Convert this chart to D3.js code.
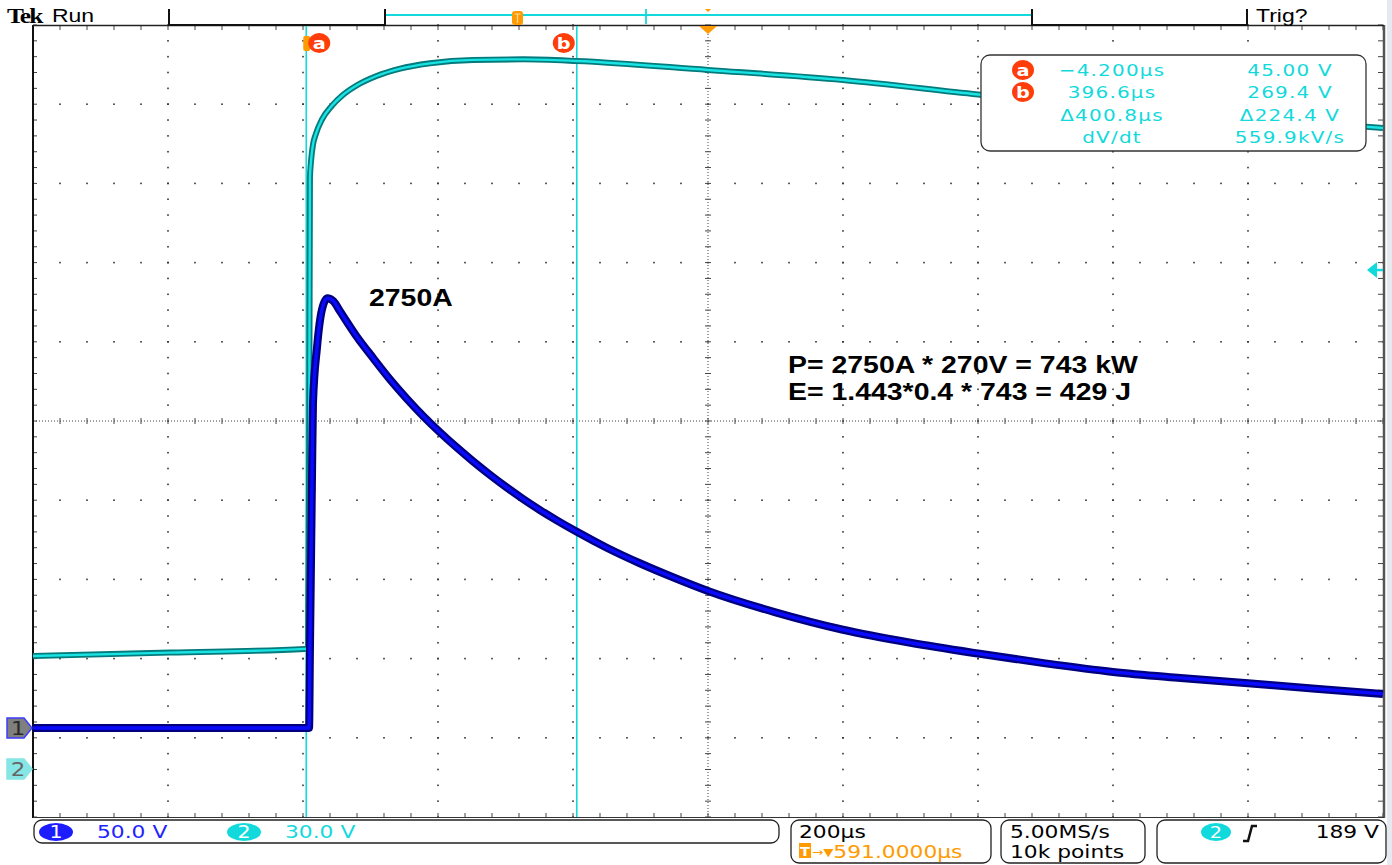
<!DOCTYPE html>
<html>
<head>
<meta charset="utf-8">
<script src="https://cdn.jsdelivr.net/npm/d3@7"></script>
<style>
  body { margin: 0; background: #fff; }
  svg { display: block; }
</style>
</head>
<body>
<div id="app"></div>
<script>
(function (d3) {

  'use strict'

  const w = 1392
  const h = 865
  const stretch = 1.21   // the scope screen is wider than tall, text too

  // horizontal: 200 µs/div, centre of screen at 591 µs
  const timePerDiv = 200
  const horizPos = 591

  // channel 1 (dark blue), 50 V/div
  const ch1Time = [-409, -300, -200, -100, -2, 0, 1.3, 4.3, 5.8, 11.7, 19, 27, 36, 46, 70, 95, 120, 145, 170, 194, 219, 243, 268, 293, 317, 342, 367, 396, 441, 490, 540, 591, 691, 791, 891, 991, 1091, 1191, 1291, 1391, 1491, 1591]
  const ch1Volt = [0, 0, 0, 0, 0, 0, 49, 157, 205, 240, 264, 271.3, 269.5, 263, 247.5, 233.5, 220, 207.8, 196.5, 186.6, 177, 168.3, 159.8, 151.8, 144.6, 137.6, 131.1, 124, 113.8, 104, 95, 86.5, 73, 62, 53.8, 47, 40.8, 35.4, 31.6, 28.2, 24.8, 21.5]

  // channel 2 (cyan), 30 V/div
  const ch2Time = [-409, -206, -6, -1.5, 0.2, 1.3, 2.8, 5.8, 10, 19, 34, 50, 71, 100, 135, 179, 243, 317, 396, 591, 791, 991, 1191, 1391, 1591]
  const ch2Volt = [42.8, 44.1, 45.5, 45.6, 120, 224, 230, 236.5, 240.5, 246, 251.3, 255.3, 259, 262.5, 265.3, 267.3, 268.6, 268.8, 268.2, 264.8, 261, 255.5, 250.6, 246.6, 242.8]

  const voltsPerDiv = [50, 30]
  const groundDiv = [-3.876, -4.394]   // ground marker position in divisions from centre
  const triggerLevel = 189              // V on channel 2

  const cursorNames = ['a', 'b']
  const cursorTimes = [-4.2, 396.6]
  const readoutCol1 = ['−4.200µs', '396.6µs', 'Δ400.8µs', 'dV/dt']
  const readoutCol2 = ['45.00 V', '269.4 V', 'Δ224.4 V', '559.9kV/s']

  const noteLines = ['P= 2750A * 270V = 743 kW', 'E= 1.443*0.4 * 743 = 429 J']
  const peakNote = '2750A'

  const cyan = '#12d9dc'
  const orange = '#ff9a00'
  const cursorRed = '#ff3d0a'

  const svg = d3.select('#app')
    .append('svg')
    .attr('width', w)
    .attr('height', h)

  const x = d3.scaleLinear()
    .domain([horizPos - 5 * timePerDiv, horizPos + 5 * timePerDiv])
    .range([33, 1383])
  const xDiv = d3.scaleLinear().domain([-5, 5]).range([33, 1383])
  const yDiv = d3.scaleLinear().domain([-5, 5]).range([817, 25])
  const yCh = (c, v) => yDiv(v / voltsPerDiv[c] + groundDiv[c])

  const txt = function (g, px, py, s, opt) {
    opt = opt || {}
    return g.append('text')
      .attr('transform', 'translate(' + px + ',' + py + ') scale(' + stretch + ',1)')
      .attr('text-anchor', opt.anchor || 'start')
      .attr('font-family', opt.family || 'DejaVu Sans')
      .attr('font-size', opt.size || 17)
      .attr('font-weight', opt.weight || 'normal')
      .attr('letter-spacing', opt.spacing || 0)
      .attr('fill', opt.fill || '#000')
      .text(s)
  }

  // ---- graticule
  const grid = svg.append('g')
  const minorX = d3.range(-25, 26).map(i => i / 5)
  const minorY = d3.range(-25, 26).map(i => i / 5)
  const majors = [-4, -3, -2, -1, 1, 2, 3, 4]

  majors.forEach(function (m) {
    grid.selectAll(null).data(minorX).enter().append('rect')
      .attr('x', d => xDiv(d) - 0.8).attr('y', yDiv(m) - 0.8)
      .attr('width', 1.6).attr('height', 1.6).attr('fill', '#333')
    grid.selectAll(null).data(minorY).enter().append('rect')
      .attr('x', xDiv(m) - 0.8).attr('y', d => yDiv(d) - 0.8)
      .attr('width', 1.6).attr('height', 1.6).attr('fill', '#333')
  })

  // centre cross, dotted with ticks
  grid.append('line')
    .attr('x1', 33).attr('x2', 1383).attr('y1', yDiv(0)).attr('y2', yDiv(0))
    .attr('stroke', '#444').attr('stroke-dasharray', '1 2')
  grid.append('line')
    .attr('x1', xDiv(0)).attr('x2', xDiv(0)).attr('y1', 25).attr('y2', 817)
    .attr('stroke', '#444').attr('stroke-dasharray', '1 2')
  grid.selectAll(null).data(minorX).enter().append('line')
    .attr('x1', d => xDiv(d)).attr('x2', d => xDiv(d))
    .attr('y1', yDiv(0) - 3).attr('y2', yDiv(0) + 3)
    .attr('stroke', '#444')
  grid.selectAll(null).data(minorY).enter().append('line')
    .attr('y1', d => yDiv(d)).attr('y2', d => yDiv(d))
    .attr('x1', xDiv(0) - 3).attr('x2', xDiv(0) + 3)
    .attr('stroke', '#444')

  // edge ticks
  grid.selectAll(null).data(minorY).enter().append('line')
    .attr('y1', d => yDiv(d)).attr('y2', d => yDiv(d))
    .attr('x1', 33).attr('x2', 37).attr('stroke', '#444')
  grid.selectAll(null).data(minorY).enter().append('line')
    .attr('y1', d => yDiv(d)).attr('y2', d => yDiv(d))
    .attr('x1', 1378).attr('x2', 1383).attr('stroke', '#444')
  grid.selectAll(null).data(minorX).enter().append('line')
    .attr('x1', d => xDiv(d)).attr('x2', d => xDiv(d))
    .attr('y1', 26).attr('y2', 30).attr('stroke', '#444')
  grid.selectAll(null).data(minorX).enter().append('line')
    .attr('x1', d => xDiv(d)).attr('x2', d => xDiv(d))
    .attr('y1', 813).attr('y2', 817).attr('stroke', '#444')

  // borders
  grid.append('line').attr('x1', 33).attr('x2', 33).attr('y1', 25).attr('y2', 818)
    .attr('stroke', '#111').attr('stroke-width', 2)
  grid.append('line').attr('x1', 1384).attr('x2', 1384).attr('y1', 25).attr('y2', 818)
    .attr('stroke', '#555').attr('stroke-width', 2.5)
  grid.append('line').attr('x1', 33).attr('x2', 1384).attr('y1', 817.5).attr('y2', 817.5)
    .attr('stroke', '#333').attr('stroke-width', 1)
  grid.append('line').attr('x1', 33).attr('x2', 1384).attr('y1', 25.5).attr('y2', 25.5)
    .attr('stroke', '#222').attr('stroke-width', 1.5)
  svg.append('rect').attr('x', 1387).attr('y', 0).attr('width', 5).attr('height', h).attr('fill', '#e6e9ee')

  // ---- top status bar
  const top = svg.append('g')
  txt(top, 7, 23, 'Tek', { size: 21, weight: 'bold', family: 'Liberation Serif', spacing: -1.5 })
  txt(top, 52, 22, 'Run', { size: 19, family: 'Liberation Sans' })
  txt(top, 1256, 22, 'Trig?', { size: 19, family: 'Liberation Sans' })
  top.append('path')
    .attr('d', 'M169,9V25H385V9 M1032,9V25H1247V9')
    .attr('fill', 'none').attr('stroke', '#111').attr('stroke-width', 2)
  top.append('line').attr('x1', 386).attr('x2', 1031).attr('y1', 15).attr('y2', 15)
    .attr('stroke', cyan).attr('stroke-width', 1.8)
  top.append('line').attr('x1', 646).attr('x2', 646).attr('y1', 9).attr('y2', 24)
    .attr('stroke', cyan).attr('stroke-width', 1.8)
  top.append('rect').attr('x', 512).attr('y', 11).attr('width', 11).attr('height', 14).attr('rx', 3)
    .attr('fill', orange)
  top.append('path').attr('d', 'M514.5,14H520.5M517.5,14V23').attr('stroke', '#ffd79a').attr('stroke-width', 1.2)
  top.append('path').attr('d', 'M705,9H711L708,12Z').attr('fill', orange)
  top.append('path').attr('d', 'M699,26H717L708,34Z').attr('fill', orange)

  // ---- cursors
  const cur = svg.append('g')
  cur.selectAll('line').data(cursorTimes).enter().append('line')
    .attr('x1', d => x(d)).attr('x2', d => x(d))
    .attr('y1', 26).attr('y2', 817)
    .attr('stroke', cyan).attr('stroke-width', 1.6)
  cur.append('rect').attr('x', x(cursorTimes[0]) - 3).attr('y', 36).attr('width', 7).attr('height', 15).attr('rx', 2)
    .attr('fill', orange)
  const badge = function (g, cx, cy, s) {
    g.append('ellipse').attr('cx', cx).attr('cy', cy).attr('rx', 11).attr('ry', 10).attr('fill', cursorRed)
    txt(g, cx, cy + 6, s, { size: 16, weight: 'bold', fill: '#fff', anchor: 'middle' })
  }
  badge(cur, x(cursorTimes[0]) + 13, 43, cursorNames[0])
  badge(cur, x(cursorTimes[1]) - 13, 43, cursorNames[1])

  // ---- traces
  const traces = svg.append('g')
  const line = c => d3.line()
    .x(d => x(d[0]))
    .y(d => yCh(c, d[1]))
    .curve(d3.curveMonotoneX)

  const ch2 = d3.zip(ch2Time, ch2Volt)
  const ch1 = d3.zip(ch1Time, ch1Volt)

  traces.append('path').datum(ch2).attr('d', line(1))
    .attr('fill', 'none').attr('stroke', '#057a7c').attr('stroke-width', 6)
  traces.append('path').datum(ch2).attr('d', line(1))
    .attr('fill', 'none').attr('stroke', '#1ae3e3').attr('stroke-width', 2.4)
  traces.append('path').datum(ch1).attr('d', line(0))
    .attr('fill', 'none').attr('stroke', '#00007e').attr('stroke-width', 8)
  traces.append('path').datum(ch1).attr('d', line(0))
    .attr('fill', 'none').attr('stroke', '#0a0aff').attr('stroke-width', 3.4)

  // channel ground markers + trigger level
  const mk = svg.append('g')
  const marker = function (cy, fill, edge, s, textFill) {
    mk.append('path')
      .attr('d', 'M7,' + (cy - 10) + 'H24L32,' + cy + 'L24,' + (cy + 10) + 'H7Z')
      .attr('fill', fill).attr('stroke', edge).attr('stroke-width', 1.5)
    txt(mk, 18, cy + 7, s, { size: 19, fill: textFill, anchor: 'middle' })
  }
  marker(yDiv(groundDiv[0]), '#7f7f7f', '#3c3cff', '1', '#2a2a2a')
  marker(yDiv(groundDiv[1]), '#86e6e6', '#86e6e6', '2', '#666')
  const ty = yCh(1, triggerLevel)
  mk.append('path').attr('d', 'M1367,' + ty + 'L1377,' + (ty - 8) + 'V' + (ty + 8) + 'Z').attr('fill', cyan)
  mk.append('line').attr('x1', 1375).attr('x2', 1383).attr('y1', ty).attr('y2', ty)
    .attr('stroke', cyan).attr('stroke-width', 2.5)

  // ---- cursor readout
  const ro = svg.append('g')
  ro.append('rect').attr('x', 981).attr('y', 55).attr('width', 385).attr('height', 96).attr('rx', 9)
    .attr('fill', '#fff').attr('stroke', '#333').attr('stroke-width', 1.3)
  const rowY = [70, 92, 115, 137]
  badge(ro, 1023, rowY[0], cursorNames[0])
  badge(ro, 1023, rowY[1], cursorNames[1])
  readoutCol1.forEach(function (s, i) {
    txt(ro, 1112, rowY[i] + 6, s, { size: 16.5, fill: cyan, anchor: 'middle', spacing: 1 })
  })
  readoutCol2.forEach(function (s, i) {
    txt(ro, 1290, rowY[i] + 6, s, { size: 16.5, fill: cyan, anchor: 'middle', spacing: 1 })
  })

  // ---- annotations
  const ann = svg.append('g')
  txt(ann, 369, 306, peakNote, { size: 23.5, weight: 'bold', family: 'Liberation Sans' })
  noteLines.forEach(function (s, i) {
    txt(ann, 788, 373 + i * 27, s, { size: 23.5, weight: 'bold', family: 'Liberation Sans' })
  })

  // ---- bottom readouts
  const bot = svg.append('g')
  const box = (x0, y0, bw, bh) => bot.append('rect')
    .attr('x', x0).attr('y', y0).attr('width', bw).attr('height', bh).attr('rx', 8)
    .attr('fill', 'none').attr('stroke', '#222').attr('stroke-width', 1.3)
  box(34, 820, 745, 23)
  box(791, 820, 200, 43)
  box(1001, 820, 144, 43)
  box(1157, 820, 229, 43)

  bot.append('ellipse').attr('cx', 56).attr('cy', 832).attr('rx', 17).attr('ry', 9).attr('fill', '#1c1cff')
  txt(bot, 56, 838, '1', { size: 17, fill: '#fff', anchor: 'middle' })
  txt(bot, 97, 838, voltsPerDiv[0].toFixed(1) + ' V', { size: 18, fill: '#2323ff' })
  bot.append('ellipse').attr('cx', 244).attr('cy', 832).attr('rx', 17).attr('ry', 9).attr('fill', cyan)
  txt(bot, 244, 838, '2', { size: 17, fill: '#fff', anchor: 'middle' })
  txt(bot, 285, 838, voltsPerDiv[1].toFixed(1) + ' V', { size: 18, fill: cyan })

  txt(bot, 799, 838, timePerDiv + 'µs', { size: 18 })
  bot.append('rect').attr('x', 799).attr('y', 843).attr('width', 12).attr('height', 15).attr('fill', orange)
  txt(bot, 805, 856, 'T', { size: 12, weight: 'bold', fill: '#fff', anchor: 'middle' })
  const tpos = txt(bot, 812, 858, '', { size: 18, fill: orange })
  tpos.append('tspan').attr('font-size', 11).attr('dy', -2).text('→▼')
  tpos.append('tspan').attr('dy', 2).text(horizPos.toFixed(4) + 'µs')

  txt(bot, 1010, 838, '5.00MS/s', { size: 18 })
  txt(bot, 1010, 858, '10k points', { size: 18 })

  bot.append('ellipse').attr('cx', 1216).attr('cy', 832).attr('rx', 15).attr('ry', 9).attr('fill', cyan)
  txt(bot, 1216, 838, '2', { size: 16, fill: '#fff', anchor: 'middle' })
  bot.append('path').attr('d', 'M1243,841H1248L1252,826H1257')
    .attr('fill', 'none').attr('stroke', '#111').attr('stroke-width', 2.5)
  txt(bot, 1379, 838, triggerLevel + ' V', { size: 18, anchor: 'end' })

}(d3))
</script>
</body>
</html>
